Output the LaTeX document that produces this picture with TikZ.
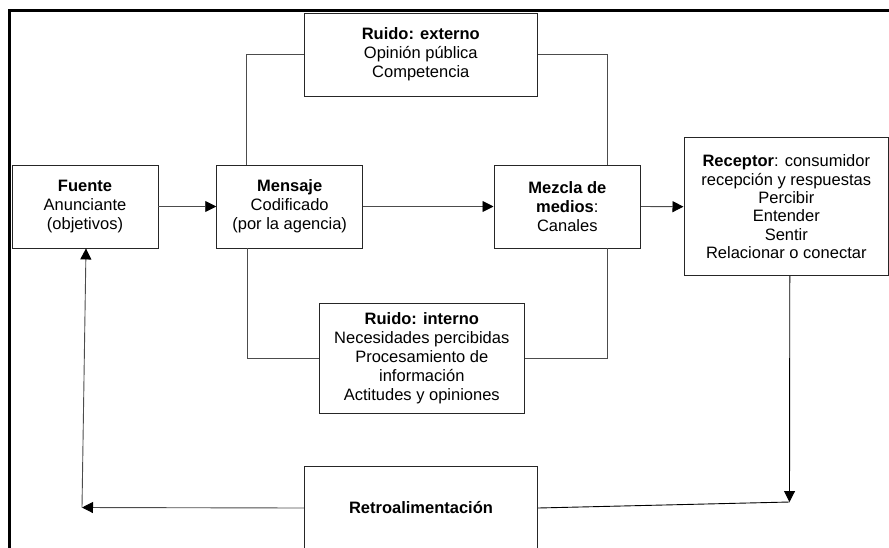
\documentclass[tikz,border=0pt]{standalone}
\usepackage{fontspec}
\setmainfont{Liberation Sans}
\usetikzlibrary{arrows.meta}

\begin{document}
\begin{tikzpicture}[x=1pt,y=-1pt,
  box/.style={draw=black!85,line width=0.9pt,fill=white,inner sep=0pt,align=center,
    font=\fontsize{16.5}{19}\selectfont},
  link/.style={draw=black!70,line width=0.9pt},
  arr/.style={link,-{Triangle[length=11pt,width=11pt,color=black]}},
  frame/.style={line width=3pt,black}]
  \useasboundingbox (0,0) rectangle (889,547);
  \clip (0,0) rectangle (889,547);

  % outer frame (only the left and top sides fall inside the page)
  \draw[frame] (9.5,560) -- (9.5,10.5) -- (900,10.5);

  % main chain of the communication process
  \node[box,minimum width=146pt,minimum height=83pt] (fuente) at (85,206.5)
    {\textbf{Fuente}\\Anunciante\\(objetivos)};
  \node[box,minimum width=146pt,minimum height=83pt] (mensaje) at (289.7,206.5)
    {\textbf{Mensaje}\\Codificado\\(por la agencia)};
  \node[box,minimum width=146.7pt,minimum height=83pt] (mezcla) at (567.3,206.5)
    {\textbf{Mezcla de}\\\textbf{medios}:\\Canales};
  \node[box,minimum width=204.7pt,minimum height=138pt,
        font=\fontsize{16.5}{18.3}\selectfont] (receptor) at (786.3,206.7)
    {\textbf{Receptor}: consumidor\\recepción y respuestas\\Percibir\\Entender\\Sentir\\Relacionar o conectar};

  % noise sources
  \node[box,minimum width=233pt,minimum height=82.7pt] (externo) at (420.8,54.6)
    {\textbf{Ruido: externo}\\Opinión pública\\Competencia};
  \node[box,minimum width=205pt,minimum height=109.7pt] (interno) at (421.8,358.2)
    {\textbf{Ruido: interno}\\Necesidades percibidas\\Procesamiento de\\información\\Actitudes y opiniones};

  % feedback
  \node[box,minimum width=233.4pt,minimum height=82.6pt] (retro) at (421,508)
    {\textbf{Retroalimentación}};

  % forward arrows
  \draw[arr] (fuente.east) -- (mensaje.west);
  \draw[arr] (mensaje.east) -- (mezcla.west);
  \draw[arr] (mezcla.east) -- (receptor.west);

  % noise links
  \draw[link] (externo.west) -| ([xshift=-43.7pt]mensaje.north);
  \draw[link] (externo.east) -| ([xshift=40pt]mezcla.north);
  \draw[link] (interno.west) -| ([xshift=-42.4pt]mensaje.south);
  \draw[link] (interno.east) -| ([xshift=40.2pt]mezcla.south);

  % feedback loop
  \coordinate (fbright) at (789.5,502);
  \coordinate (fbleft) at (82,507.5);
  \draw[arr,draw=black] ([xshift=3.5pt]receptor.south) -- (fbright);
  \draw[link,draw=black] (retro.east) -- (fbright);
  \draw[arr] (retro.west) -- (fbleft);
  \draw[arr] (fbleft) -- ([xshift=1pt]fuente.south);
\end{tikzpicture}
\end{document}
